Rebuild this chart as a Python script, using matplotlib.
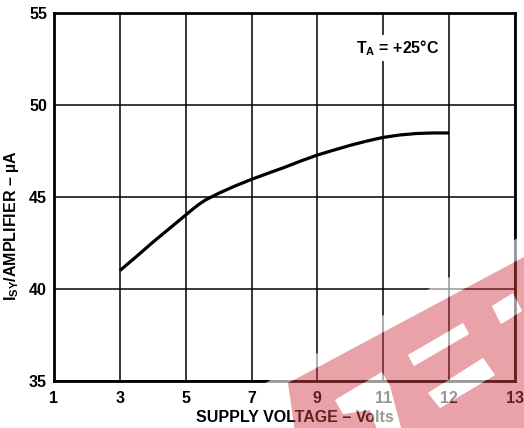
import numpy as np
import matplotlib
matplotlib.use("Agg")
import matplotlib.pyplot as plt
from matplotlib.patches import Polygon, PathPatch
from matplotlib.path import Path

plt.rcParams['font.family'] = ['Liberation Sans', 'DejaVu Sans']
plt.rcParams['font.weight'] = 'bold'
plt.rcParams['mathtext.fontset'] = 'custom'
plt.rcParams['mathtext.rm'] = 'Liberation Sans:bold'
plt.rcParams['mathtext.bf'] = 'Liberation Sans:bold'
plt.rcParams['mathtext.it'] = 'Liberation Sans:bold'

# Supply current per amplifier vs supply voltage
supply_voltage = [3, 3.5, 4, 4.5, 5, 5.2, 5.4, 5.6, 5.8, 6, 6.5, 7, 7.5, 8, 8.5,
                  9, 9.5, 10, 10.5, 11, 11.25, 11.5, 11.75, 12]
isy_ua = [41.0, 41.76, 42.54, 43.28, 44.02, 44.32, 44.6, 44.84, 45.02, 45.2, 45.6,
          45.96, 46.29, 46.61, 46.96, 47.28, 47.55, 47.81, 48.04, 48.24, 48.37,
          48.45, 48.48, 48.48]

x_ticks = [1, 3, 5, 7, 9, 11, 12, 13]
y_ticks = [35, 40, 45, 50, 55]

W, H = 524, 428
fig = plt.figure(figsize=(W / 100, H / 100), dpi=100)
ax = fig.add_axes([54 / W, 1 - 381 / H, (515 - 54) / W, (381 - 13) / H])

# the voltage axis is evenly spaced per labelled tick
idx = np.arange(len(x_ticks), dtype=float)
fwd = lambda v: np.interp(v, x_ticks, idx)
inv = lambda p: np.interp(p, idx, x_ticks)
ax.set_xscale('function', functions=(fwd, inv))
ax.set_xlim(x_ticks[0], x_ticks[-1])
ax.set_ylim(y_ticks[0], y_ticks[-1])
ax.set_xticks(x_ticks)
ax.set_yticks(y_ticks)
ax.set_xticklabels([str(t) for t in x_ticks])
ax.set_yticklabels([str(t) for t in y_ticks])
ax.minorticks_off()
ax.tick_params(length=0, labelsize=11.5)
ax.tick_params(axis='x', pad=7)
ax.tick_params(axis='y', pad=5)
ax.grid(True, color='black', lw=1.1)
ax.set_axisbelow(True)
for s in ax.spines.values():
    s.set_linewidth(2)
    s.set_color('black')

ax.plot(supply_voltage, isy_ua, color='black', lw=2.3, solid_capstyle='butt',
        solid_joinstyle='round')

ax.text(0.745, 0.905, r'T$_{\mathbf{A}}$ = +25°C', transform=ax.transAxes,
        fontsize=11.5, fontweight='bold', ha='center', va='center',
        bbox=dict(facecolor='white', edgecolor='none', pad=2))

ax.set_xlabel('SUPPLY VOLTAGE – Volts', fontsize=11.5, fontweight='bold')
ax.xaxis.set_label_coords(0.523, -0.08)
fig.text(12 / W, 1 - 226 / H, r'I$_{\mathbf{SY}}$/AMPLIFIER – µA', rotation=90,
         fontsize=11.5, fontweight='bold', ha='center', va='center')

# stamp overlay in the lower right corner
def px(pts):
    return [(x / W, 1 - y / H) for x, y in pts]

band = [(288, 383), (535, 251), (535, 440), (296, 440)]
holes = [
    [(408, 355), (463, 323), (469, 334), (414, 366)],
    [(428, 393), (483, 358), (495, 375), (440, 408)],
    [(492, 306), (513, 293), (522, 311), (501, 324)],
    [(335, 400), (382, 372), (390, 386), (402, 432), (378, 432), (370, 410), (343, 414)],
]

def ring(pts, ccw):
    a = np.array(px(pts))
    area = 0.5 * np.sum(a[:, 0] * np.roll(a[:, 1], -1) - np.roll(a[:, 0], -1) * a[:, 1])
    if (area > 0) != ccw:
        a = a[::-1]
    return a

verts, codes = [], []
for i, r in enumerate([band] + holes):
    a = ring(r, ccw=(i == 0))
    verts += list(a) + [a[0]]
    codes += [Path.MOVETO] + [Path.LINETO] * (len(a) - 1) + [Path.CLOSEPOLY]
red = PathPatch(Path(verts, codes), facecolor=(209 / 255, 63 / 255, 73 / 255),
                alpha=0.48, edgecolor='none', transform=fig.transFigure, zorder=10)
fig.add_artist(red)

haze = [[(262, 385), (535, 228), (535, 251), (288, 383)]] + holes
for h in haze:
    fig.add_artist(Polygon(px(h), closed=True, facecolor='white', alpha=0.6,
                           edgecolor='none', transform=fig.transFigure, zorder=10))

fig.savefig('out.png', dpi=100)
